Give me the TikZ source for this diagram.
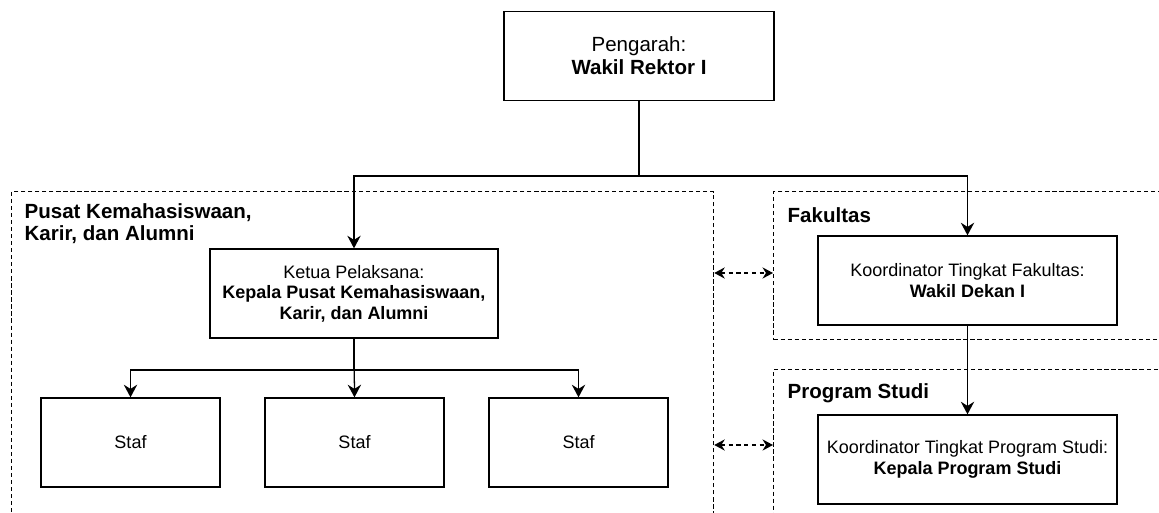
\documentclass[tikz,border=0pt]{standalone}
\usepackage{fontspec}
\setmainfont{Liberation Sans}
\usetikzlibrary{arrows.meta,positioning}

\begin{document}
\begin{tikzpicture}[line width=0.9pt,
  box/.style={draw,fill=white,align=center,inner sep=2pt,minimum height=2.225cm,font=\fontsize{12.8}{14.6}\selectfont},
  topbox/.style={box,font=\fontsize{14.6}{16.4}\selectfont},
  region/.style={draw,dash pattern=on 3pt off 2pt,anchor=north west,inner sep=0pt},
  heading/.style={anchor=west,align=left,inner sep=0pt,font=\fontsize{14.6}{15.8}\selectfont\bfseries},
  tip/.style={-{Stealth[length=9pt,width=9.5pt,inset=3pt]}},
  link/.style={dash pattern=on 3pt off 2.5pt,{Stealth[length=7.5pt,width=8pt,inset=2.5pt]}-{Stealth[length=7.5pt,width=8pt,inset=2.5pt]}}]
  \useasboundingbox (0,0) rectangle (28.975,12.825);
  \clip (0,0) rectangle (28.975,12.825);

  % dashed areas
  \node[region,minimum width=17.55cm,minimum height=9cm] (pusat) at (0.275,8.05) {};
  \node[region,minimum width=11cm,minimum height=3.7cm] (fakultas) at (19.325,8.05) {};
  \node[region,minimum width=11cm,minimum height=5cm] (prodi) at (19.325,3.6) {};
  \node[heading] (pusattitle) at (0.6,7.225) {Pusat Kemahasiswaan,\\Karir, dan Alumni};
  \node[heading] (fakultastitle) at (19.675,7.45) {Fakultas};
  \node[heading] (proditle) at (19.675,3.0) {Program Studi};

  % boxes
  \node[topbox,minimum width=6.75cm] (pengarah) at (15.975,11.425) {Pengarah:\\\textbf{Wakil Rektor I}};
  \node[box,minimum width=7.2cm] (ketua) at (8.85,5.4875) {Ketua Pelaksana:\\\textbf{Kepala Pusat Kemahasiswaan,}\\\textbf{Karir, dan Alumni}};
  \node[box,minimum width=4.475cm] (staf1) at (3.2625,1.7625) {Staf};
  \node[box,minimum width=4.475cm] (staf2) at (8.8625,1.7625) {Staf};
  \node[box,minimum width=4.475cm] (staf3) at (14.4625,1.7625) {Staf};
  \node[box,minimum width=7.475cm] (fakbox) at (24.1875,5.8125) {Koordinator Tingkat Fakultas:\\\textbf{Wakil Dekan I}};
  \node[box,minimum width=7.475cm] (prodibox) at (24.1875,1.3375) {Koordinator Tingkat Program Studi:\\\textbf{Kepala Program Studi}};

  % connectors
  \coordinate (split) at (0,8.425);
  \coordinate (bus) at (0,3.575);
  \coordinate (row1) at (0,6.0);
  \coordinate (row2) at (0,1.7);
  \draw[tip] (pengarah.south) -- (pengarah.south |- split) -| (ketua.north);
  \draw[tip] (pengarah.south |- split) -| (fakbox.north);
  \draw[tip] (ketua.south) -- (ketua.south |- bus) -| (staf1.north);
  \draw[tip] (ketua.south |- bus) -| (staf3.north);
  \draw[tip] (ketua.south) -- (staf2.north);
  \draw[tip] (fakbox.south) -- (prodibox.north);
  \draw[link] (pusat.east |- row1) -- (fakultas.west |- row1);
  \draw[link] (pusat.east |- row2) -- (prodi.west |- row2);
\end{tikzpicture}
\end{document}
